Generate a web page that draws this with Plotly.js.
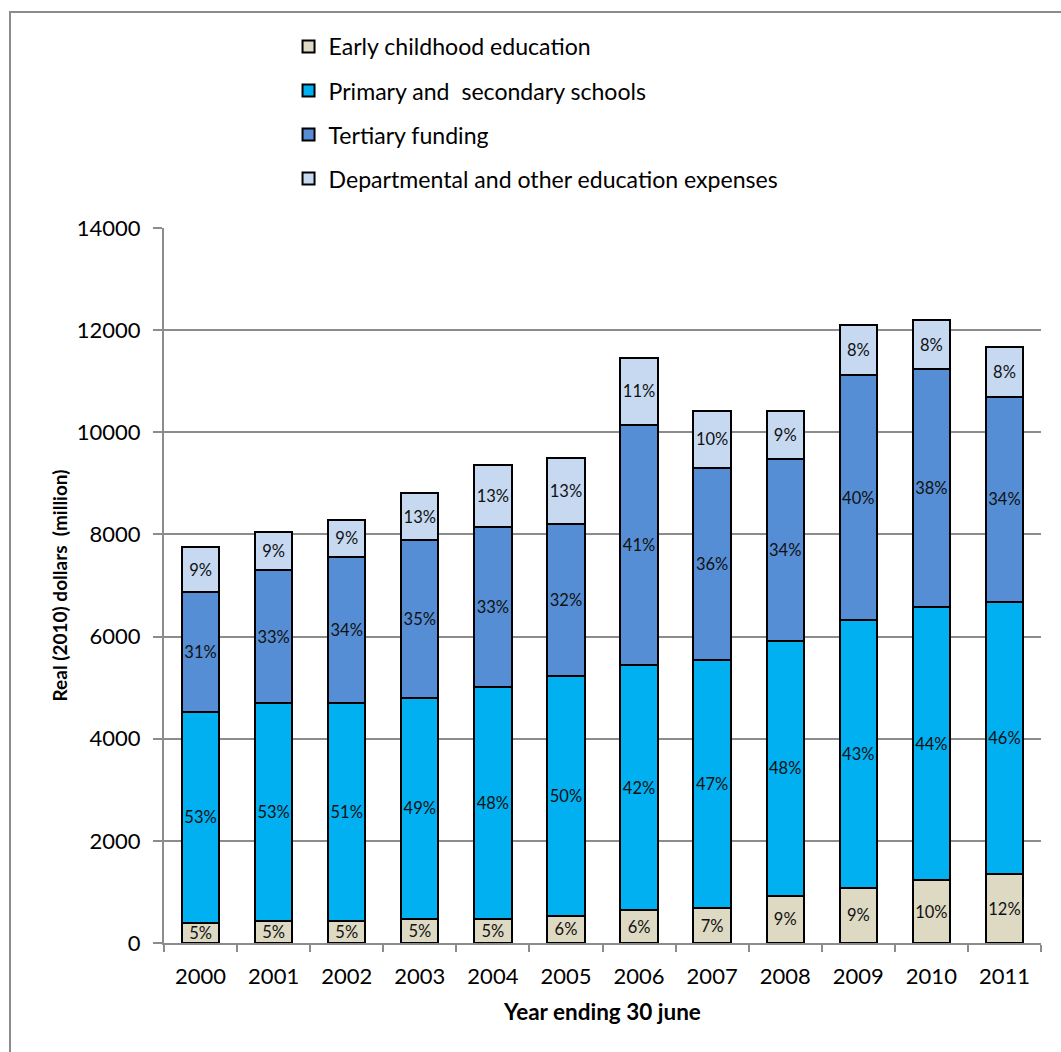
<!DOCTYPE html>
<html>
<head>
<meta charset="utf-8">
<script src="https://cdn.plot.ly/plotly-3.0.1.min.js"></script>
<style>
  html, body { margin: 0; padding: 0; background: #ffffff; }
  #wrap { position: relative; width: 1061px; height: 1052px; overflow: hidden; }
  #chart { position: absolute; left: 0; top: 0; width: 1061px; height: 1052px; }
  #frame {
    position: absolute; left: 9px; top: 11px; width: 1200px; height: 1200px;
    border-left: 2px solid #8c8c8c; border-top: 2px solid #8c8c8c;
    pointer-events: none; z-index: 5;
  }
</style>
</head>
<body>
<div id="wrap">
  <div id="chart"></div>
  <div id="frame"></div>
</div>
<script>
// Education spending by sector, real (2010) dollars, million
const years = ['2000', '2001', '2002', '2003', '2004', '2005', '2006', '2007', '2008', '2009', '2010', '2011'];

const earlyChildhood = [400, 440, 440, 475, 465, 535, 640, 680, 930, 1085, 1230, 1345];
const primarySecondary = [4120, 4250, 4255, 4320, 4545, 4690, 4805, 4865, 4980, 5235, 5345, 5340];
const tertiary = [2355, 2615, 2865, 3095, 3130, 2985, 4695, 3750, 3575, 4800, 4655, 4005];
const departmental = [875, 735, 730, 920, 1210, 1280, 1320, 1130, 940, 980, 960, 985];

// Share of each year's total, as printed on the segments
const earlyShare = ['5%', '5%', '5%', '5%', '5%', '6%', '6%', '7%', '9%', '9%', '10%', '12%'];
const primaryShare = ['53%', '53%', '51%', '49%', '48%', '50%', '42%', '47%', '48%', '43%', '44%', '46%'];
const tertiaryShare = ['31%', '33%', '34%', '35%', '33%', '32%', '41%', '36%', '34%', '40%', '38%', '34%'];
const departmentalShare = ['9%', '9%', '9%', '13%', '13%', '13%', '11%', '10%', '9%', '8%', '8%', '8%'];

const yTicks = [0, 2000, 4000, 6000, 8000, 10000, 12000, 14000];

const FONT = 'Lato, "Open Sans", sans-serif';

function series(name, values, labels, color, group) {
  return {
    type: 'bar',
    name: name,
    x: years,
    y: values,
    text: labels,
    textposition: 'inside',
    insidetextanchor: 'middle',
    constraintext: 'none',
    textangle: 0,
    textfont: { family: FONT, size: 16.5, color: '#111111' },
    marker: { color: color, line: { color: '#000000', width: 2 } },
    legendgroup: group,
    hoverinfo: 'x+y+name'
  };
}

const traces = [
  series('Early childhood education', earlyChildhood, earlyShare, '#ddd9c3', 'g1'),
  series('Primary and  secondary schools', primarySecondary, primaryShare, '#00b0f0', 'g2'),
  series('Tertiary funding', tertiary, tertiaryShare, '#558ed5', 'g3'),
  series('Departmental and other education expenses', departmental, departmentalShare, '#c6d9f1', 'g4')
];

const layout = {
  width: 1061,
  height: 1052,
  margin: { l: 164, r: 20, t: 228, b: 109 },
  paper_bgcolor: '#ffffff',
  plot_bgcolor: '#ffffff',
  barmode: 'stack',
  bargap: 0.49,
  font: { family: FONT, color: '#000000' },
  showlegend: true,
  legend: {
    x: 0.142, xanchor: 'left',
    y: 1.284, yanchor: 'top',
    orientation: 'v',
    traceorder: 'grouped',
    tracegroupgap: 11,
    font: { family: FONT, size: 23.1, color: '#000000' },
    bgcolor: 'rgba(0,0,0,0)'
  },
  xaxis: {
    type: 'category',
    tickson: 'boundaries',
    ticks: 'outside',
    ticklen: 7,
    tickwidth: 2,
    tickcolor: '#8c8c8c',
    showline: true,
    linecolor: '#8c8c8c',
    linewidth: 2,
    showgrid: false,
    ticklabelstandoff: 13,
    tickfont: { family: FONT, size: 22, color: '#000000' },
    title: {
      text: 'Year ending 30 june',
      font: { family: FONT, size: 22.5, color: '#000000', weight: 'bold' },
      standoff: 16
    }
  },
  yaxis: {
    range: [0, 14000],
    tickvals: yTicks,
    ticktext: yTicks.map(String),
    ticks: 'outside',
    ticklen: 9,
    tickwidth: 2,
    tickcolor: '#8c8c8c',
    showline: true,
    linecolor: '#8c8c8c',
    linewidth: 2,
    showgrid: true,
    gridcolor: '#8c8c8c',
    gridwidth: 2,
    zeroline: false,
    ticklabelstandoff: 8,
    tickfont: { family: FONT, size: 22, color: '#000000' },
    title: {
      text: 'Real (2010) dollars  (million)',
      font: { family: FONT, size: 19, color: '#000000', weight: 'bold' },
      standoff: 4
    }
  }
};

Plotly.newPlot('chart', traces, layout, { displayModeBar: false, staticPlot: true });
</script>
</body>
</html>
